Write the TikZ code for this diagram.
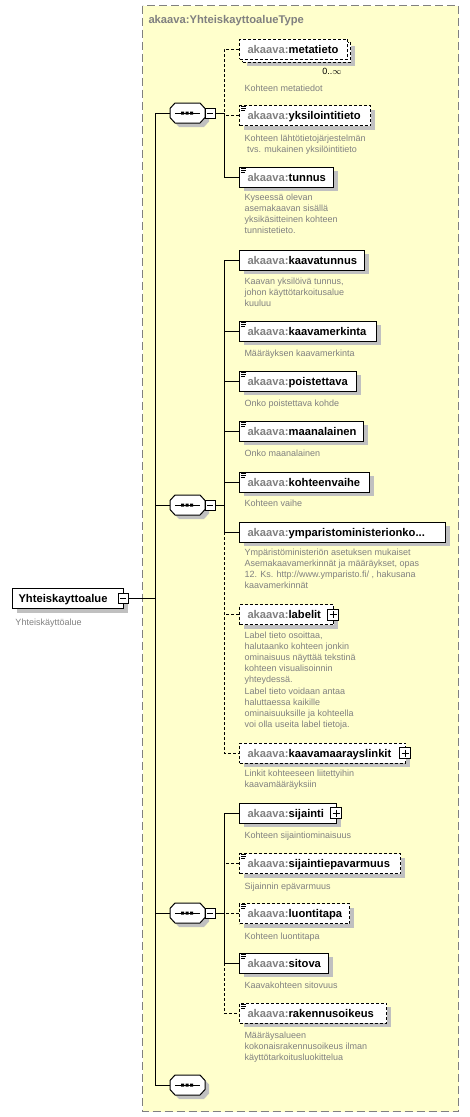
\documentclass[tikz,border=0pt]{standalone}
\usepackage{fontspec}
\setmainfont{Liberation Sans}
\usetikzlibrary{shadows}
\definecolor{ybg}{HTML}{FFFFCC}
\definecolor{bgray}{HTML}{808080}
\definecolor{shc}{HTML}{C0C0C0}
\definecolor{tgray}{HTML}{808080}
\newcommand{\ak}[1]{\textcolor{tgray}{akaava:}#1}
\newcommand{\simpleicon}[1]{\draw[line width=.8pt] ([shift={(2,1.5)}]#1.north west) -- ++(5,0) ([shift={(2,3.5)}]#1.north west) -- ++(5,0) ([shift={(2,5.5)}]#1.north west) -- ++(4,0);}
\begin{document}
\begin{tikzpicture}[x=1pt,y=-1pt,line width=1pt,
  elem/.style={draw=black, fill=white, anchor=west, inner xsep=8pt, inner ysep=0pt,
    minimum height=20pt, text height=9pt, text depth=1pt, align=left,
    font=\fontsize{11.2}{13}\selectfont\bfseries},
  shad/.style={drop shadow={shadow xshift=4pt, shadow yshift=-4pt, fill=shc, opacity=1}},
  opt/.style={dash pattern=on 3pt off 2pt},
  desc/.style={anchor=north west, inner sep=0pt, align=left, text=tgray,
    font=\fontsize{9}{11.2}\selectfont, execute at begin node=\strut},
  dconn/.style={dash pattern=on 3pt off 2pt},
  pics/minusb/.style={code={\draw[fill=white] (-5,-5) rectangle (5,5); \draw (-3,0) -- (3,0);}},
  pics/plusb/.style={code={\draw[fill=white] (-5.5,-5.5) rectangle (5.5,5.5); \draw (-3.5,0) -- (3.5,0) (0,-3.5) -- (0,3.5);}},
  pics/seq/.style={code={
    \fill[shc,shift={(4,4)}] (0,-4.5) -- (5,-10) -- (30,-10) -- (35,-4.5) -- (35,4.5) -- (30,10) -- (5,10) -- (0,4.5) -- cycle;
    \draw[fill=white] (0,-4.5) -- (5,-10) -- (30,-10) -- (35,-4.5) -- (35,4.5) -- (30,10) -- (5,10) -- (0,4.5) -- cycle;
    \draw (5,0) -- (30,0);
    \fill (11,-1.5) rectangle (14,1.5) (15.5,-1.5) rectangle (18.5,1.5) (20,-1.5) rectangle (23,1.5);
    \coordinate (-w) at (0,0);
    \coordinate (-e) at (35,0);}},
  pics/seqm/.style={code={
    \pic {seq};
    \draw[fill=white] (35,-5) rectangle (45,5); \draw (37,0) -- (43,0);
    \coordinate (-w) at (0,0);
    \coordinate (-m) at (45,0);}}
]
\useasboundingbox (0,0) rectangle (469,1117);
% type frame
\draw[draw=bgray, fill=ybg, dash pattern=on 8pt off 4pt] (142.5,5.5) rectangle (458.5,1111.5);
\node[anchor=base west, inner sep=0pt, text=tgray, font=\fontsize{11.2}{13}\selectfont\bfseries] (title) at (148,23.5) {akaava:YhteiskayttoalueType};

% root
\node[elem, shad, inner xsep=6pt, text width=99pt] (root) at (12,598.5) {Yhteiskayttoalue};
\pic at ([xshift=-1pt]root.east) {minusb};
\node[desc] (rootd) at (15,617) {Yhteiskäyttöalue};

% sequences
\pic (s1) at (170,113) {seqm};
\pic (s2) at (170,505) {seqm};
\pic (s3) at (170,913) {seqm};
\pic (s4) at (170,1085) {seq};
\coordinate (b1) at (224,113);
\coordinate (b2) at (224,505);
\coordinate (b3) at (224,913);
\coordinate (trunk) at (155,598.5);

% group 1
\node[elem, opt, shad, text width=92pt] (metaback) at (242,52) {\phantom{x}};
\node[elem, opt, text width=92pt] (metatieto) at (239,49) {\ak{metatieto}};
\node[inner sep=0pt, font=\fontsize{9}{11}\selectfont] (mult) at (332,71.5) {0..$\infty$};
\node[desc] (metatietod) at (244,83) {Kohteen metatiedot};
\node[elem, opt, shad, text width=115pt] (yksilointitieto) at (239,115.5) {\ak{yksilointitieto}};
\simpleicon{yksilointitieto}
\node[desc] (yksilointitietod) at (244,134) {Kohteen lähtötietojärjestelmän\\ \ tvs. mukainen yksilöintitieto};
\node[elem, shad, text width=78pt] (tunnus) at (239,177) {\ak{tunnus}};
\simpleicon{tunnus}
\node[desc] (tunnusd) at (244,193) {Kyseessä olevan\\asemakaavan sisällä\\yksikäsitteinen kohteen\\tunnistetieto.};

% group 2
\node[elem, shad, text width=109pt] (kaavatunnus) at (239,260) {\ak{kaavatunnus}};
\node[desc] (kaavatunnusd) at (244,277) {Kaavan yksilöivä tunnus,\\johon käyttötarkoitusalue\\kuuluu};
\node[elem, shad, text width=121pt] (kaavamerkinta) at (239,331) {\ak{kaavamerkinta}};
\simpleicon{kaavamerkinta}
\node[desc] (kaavamerkintad) at (244,348) {Määräyksen kaavamerkinta};
\node[elem, shad, text width=101pt] (poistettava) at (239,381) {\ak{poistettava}};
\simpleicon{poistettava}
\node[desc] (poistettavad) at (244,398) {Onko poistettava kohde};
\node[elem, shad, text width=108pt] (maanalainen) at (239,431) {\ak{maanalainen}};
\simpleicon{maanalainen}
\node[desc] (maanalainend) at (244,448) {Onko maanalainen};
\node[elem, shad, text width=114pt] (kohteenvaihe) at (239,482) {\ak{kohteenvaihe}};
\simpleicon{kohteenvaihe}
\node[desc] (kohteenvaihed) at (244,498) {Kohteen vaihe};
\node[elem, shad, text width=190pt] (ymp) at (239,532) {\ak{ymparistoministerionko...}};
\node[desc] (ympd) at (244,548) {Ympäristöministeriön asetuksen mukaiset\\Asemakaavamerkinnät ja määräykset, opas\\12. Ks. http://www.ymparisto.fi/ , hakusana\\kaavamerkinnät};
\node[elem, opt, shad, text width=78pt] (labelit) at (239,614.5) {\ak{labelit}};
\pic at ([xshift=-1pt]labelit.east) {plusb};
\node[desc] (labelitd) at (244,631) {Label tieto osoittaa,\\halutaanko kohteen jonkin\\ominaisuus näyttää tekstinä\\kohteen visualisoinnin\\yhteydessä.\\Label tieto voidaan antaa\\haluttaessa kaikille\\ominaisuuksille ja kohteella\\voi olla useita label tietoja.};
\node[elem, opt, shad, text width=150pt] (kml) at (239,753) {\ak{kaavamaarayslinkit}};
\pic at ([xshift=-1pt]kml.east) {plusb};
\node[desc] (kmld) at (244,769) {Linkit kohteeseen liitettyihin\\kaavamääräyksiin};

% group 3
\node[elem, shad, text width=81pt] (sijainti) at (239,813) {\ak{sijainti}};
\pic at ([xshift=-1pt]sijainti.east) {plusb};
\node[desc] (sijaintid) at (244,830) {Kohteen sijaintiominaisuus};
\node[elem, opt, shad, text width=145pt] (sijaintiep) at (239,863.5) {\ak{sijaintiepavarmuus}};
\simpleicon{sijaintiep}
\node[desc] (sijaintiepd) at (244,881) {Sijainnin epävarmuus};
\node[elem, opt, shad, text width=94pt] (luontitapa) at (239,913.5) {\ak{luontitapa}};
\simpleicon{luontitapa}
\node[desc] (luontitapad) at (244,931) {Kohteen luontitapa};
\node[elem, shad, text width=73pt] (sitova) at (239,963) {\ak{sitova}};
\simpleicon{sitova}
\node[desc] (sitovad) at (244,980) {Kaavakohteen sitovuus};
\node[elem, opt, shad, text width=131pt] (rakennusoikeus) at (239,1013) {\ak{rakennusoikeus}};
\simpleicon{rakennusoikeus}
\node[desc] (rakennusoikeusd) at (244,1031) {Määräysalueen\\kokonaisrakennusoikeus ilman\\käyttötarkoitusluokittelua};

% connectors: trunk
\draw ([xshift=4pt]root.east) -- (trunk);
\draw (s1-w) -- (s1-w -| trunk) -- (s4-w -| trunk) -- (s4-w);
\draw (s2-w) -- (s2-w -| trunk);
\draw (s3-w) -- (s3-w -| trunk);
% group 1
\draw (s1-m) -- (b1);
\draw[dconn] (metatieto.west) -- (metatieto.west -| b1) -- (b1);
\draw[dconn] (yksilointitieto.west) -- (yksilointitieto.west -| b1);
\draw (b1) -- (tunnus.west -| b1) -- (tunnus.west);
% group 2
\draw (s2-m) -- (b2);
\draw (kaavatunnus.west) -- (kaavatunnus.west -| b2) -- (ymp.west -| b2) -- (ymp.west);
\draw (kaavamerkinta.west) -- (kaavamerkinta.west -| b2);
\draw (poistettava.west) -- (poistettava.west -| b2);
\draw (maanalainen.west) -- (maanalainen.west -| b2);
\draw (kohteenvaihe.west) -- (kohteenvaihe.west -| b2);
\draw[dconn] (ymp.west -| b2) -- (kml.west -| b2) -- (kml.west);
\draw[dconn] (labelit.west) -- (labelit.west -| b2);
% group 3
\draw (s3-m) -- (b3);
\draw (sijainti.west) -- (sijainti.west -| b3) -- (sitova.west -| b3) -- (sitova.west);
\draw[dconn] (sijaintiep.west) -- (sijaintiep.west -| b3);
\draw[dconn] (luontitapa.west) -- (luontitapa.west -| b3);
\draw[dconn] (sitova.west -| b3) -- (rakennusoikeus.west -| b3) -- (rakennusoikeus.west);
\end{tikzpicture}
\end{document}
